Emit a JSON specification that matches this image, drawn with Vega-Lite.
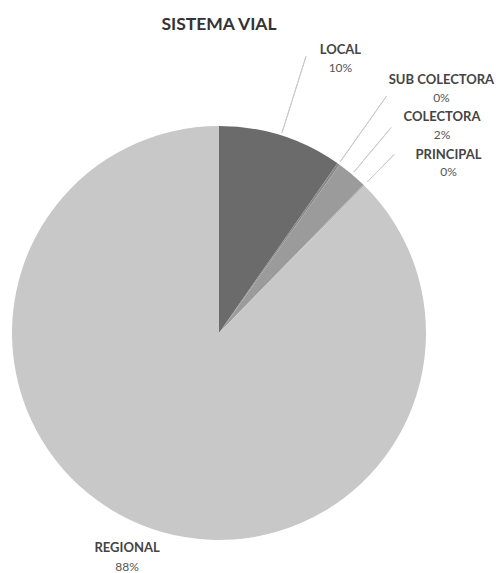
{
  "$schema": "https://vega.github.io/schema/vega-lite/v6.json",
  "width": 438,
  "height": 480,
  "autosize": {"type": "none"},
  "padding": {"left": 0, "top": 93, "right": 61, "bottom": 0},
  "background": "white",
  "title": {"text": "SISTEMA VIAL", "font": "Lato", "fontSize": 17.5, "fontWeight": "bold", "color": "#333333", "anchor": "middle", "offset": -4},
  "config": {"view": {"stroke": null}},
  "data": {"values": [
    {"cat": "LOCAL", "valor": 9.7, "pct": "10%", "orden": 1},
    {"cat": "SUB COLECTORA", "valor": 0.2, "pct": "0%", "orden": 2},
    {"cat": "COLECTORA", "valor": 2.4, "pct": "2%", "orden": 3},
    {"cat": "PRINCIPAL", "valor": 0.1, "pct": "0%", "orden": 4},
    {"cat": "REGIONAL", "valor": 87.6, "pct": "88%", "orden": 5}
  ]},
  "encoding": {
    "theta": {"field": "valor", "type": "quantitative", "stack": true},
    "order": {"field": "orden", "type": "quantitative"},
    "detail": {"field": "cat", "type": "nominal"}
  },
  "layer": [
    {
      "mark": {"type": "arc", "outerRadius": 207},
      "encoding": {
        "color": {"field": "cat", "type": "nominal", "legend": null,
          "scale": {"domain": ["LOCAL", "SUB COLECTORA", "COLECTORA", "PRINCIPAL", "REGIONAL"],
                    "range": ["#6b6b6b", "#8a8a8a", "#9b9b9b", "#b0b0b0", "#c8c8c8"]}}
      }
    },
    {
      "mark": {"type": "arc", "innerRadius": 210, "outerRadius": 290, "padAngle": 0.8, "fillOpacity": 0, "stroke": "#c9c9c9", "strokeWidth": 1},
      "encoding": {"strokeOpacity": {"condition": {"test": "datum.cat==='LOCAL' || datum.cat==='SUB COLECTORA'", "value": 1}, "value": 0}}
    },
    {
      "mark": {"type": "arc", "innerRadius": 210, "outerRadius": 268, "padAngle": 0.8, "fillOpacity": 0, "stroke": "#c9c9c9", "strokeWidth": 1},
      "encoding": {"strokeOpacity": {"condition": {"test": "datum.cat==='COLECTORA'", "value": 1}, "value": 0}}
    },
    {
      "mark": {"type": "arc", "innerRadius": 212, "outerRadius": 250, "padAngle": 0.8, "fillOpacity": 0, "stroke": "#c9c9c9", "strokeWidth": 1},
      "encoding": {"strokeOpacity": {"condition": {"test": "datum.cat==='PRINCIPAL'", "value": 1}, "value": 0}}
    },
    {
      "mark": {"type": "text", "radius": 298, "dx": 32, "dy": 1, "align": "center", "baseline": "middle", "font": "Lato", "fontWeight": "bold", "fontSize": 13, "fill": "#444444"},
      "encoding": {"text": {"field": "cat", "type": "nominal", "condition": {"test": "datum.cat!=='LOCAL'", "value": ""}}}
    },
    {
      "mark": {"type": "text", "radius": 298, "dx": 32, "dy": 19, "align": "center", "baseline": "middle", "font": "Lato", "fontSize": 12, "fill": "#555555"},
      "encoding": {"text": {"field": "pct", "type": "nominal", "condition": {"test": "datum.cat!=='LOCAL'", "value": ""}}}
    },
    {
      "mark": {"type": "text", "radius": 328, "dx": 33, "dy": 15, "align": "center", "baseline": "middle", "font": "Lato", "fontWeight": "bold", "fontSize": 13, "fill": "#444444"},
      "encoding": {"text": {"field": "cat", "type": "nominal", "condition": {"test": "datum.cat!=='SUB COLECTORA'", "value": ""}}}
    },
    {
      "mark": {"type": "text", "radius": 328, "dx": 33, "dy": 33, "align": "center", "baseline": "middle", "font": "Lato", "fontSize": 12, "fill": "#555555"},
      "encoding": {"text": {"field": "pct", "type": "nominal", "condition": {"test": "datum.cat!=='SUB COLECTORA'", "value": ""}}}
    },
    {
      "mark": {"type": "text", "radius": 302, "dx": 29, "dy": 15, "align": "center", "baseline": "middle", "font": "Lato", "fontWeight": "bold", "fontSize": 13, "fill": "#444444"},
      "encoding": {"text": {"field": "cat", "type": "nominal", "condition": {"test": "datum.cat!=='COLECTORA'", "value": ""}}}
    },
    {
      "mark": {"type": "text", "radius": 302, "dx": 29, "dy": 33, "align": "center", "baseline": "middle", "font": "Lato", "fontSize": 12, "fill": "#555555"},
      "encoding": {"text": {"field": "pct", "type": "nominal", "condition": {"test": "datum.cat!=='COLECTORA'", "value": ""}}}
    },
    {
      "mark": {"type": "text", "radius": 282, "dx": 32, "dy": 23, "align": "center", "baseline": "middle", "font": "Lato", "fontWeight": "bold", "fontSize": 13, "fill": "#444444"},
      "encoding": {"text": {"field": "cat", "type": "nominal", "condition": {"test": "datum.cat!=='PRINCIPAL'", "value": ""}}}
    },
    {
      "mark": {"type": "text", "radius": 282, "dx": 32, "dy": 40, "align": "center", "baseline": "middle", "font": "Lato", "fontSize": 12, "fill": "#555555"},
      "encoding": {"text": {"field": "pct", "type": "nominal", "condition": {"test": "datum.cat!=='PRINCIPAL'", "value": ""}}}
    },
    {
      "mark": {"type": "text", "radius": 242, "dx": 0, "dy": -9, "align": "center", "baseline": "middle", "font": "Lato", "fontWeight": "bold", "fontSize": 13, "fill": "#444444"},
      "encoding": {"text": {"field": "cat", "type": "nominal", "condition": {"test": "datum.cat!=='REGIONAL'", "value": ""}}}
    },
    {
      "mark": {"type": "text", "radius": 242, "dx": 0, "dy": 10, "align": "center", "baseline": "middle", "font": "Lato", "fontSize": 12, "fill": "#555555"},
      "encoding": {"text": {"field": "pct", "type": "nominal", "condition": {"test": "datum.cat!=='REGIONAL'", "value": ""}}}
    }
  ]
}
